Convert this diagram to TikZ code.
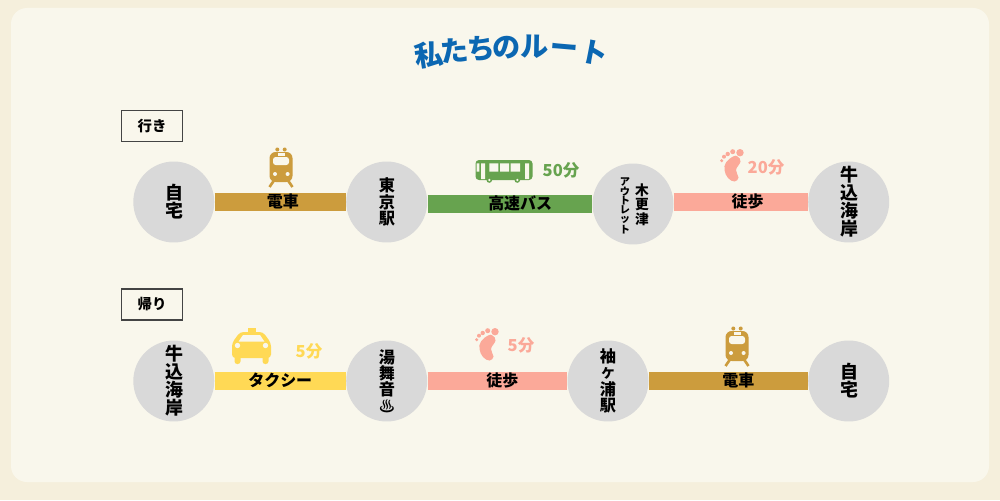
\documentclass[tikz,border=0pt]{standalone}
\usepackage{fontspec}
\usepackage{xcolor}
\usetikzlibrary{backgrounds}
\newfontfamily\jp{Noto Sans CJK JP}
\definecolor{routepage}{HTML}{F5EFDC}
\definecolor{routepanel}{HTML}{F9F7EC}
\definecolor{routeblue}{HTML}{0B67B2}
\definecolor{stopgray}{HTML}{D9D9D9}
\definecolor{trainbrown}{HTML}{CC9C3D}
\definecolor{busgreen}{HTML}{67A34F}
\definecolor{walkpink}{HTML}{FBA999}
\definecolor{taxiyellow}{HTML}{FFD955}
\definecolor{boxgray}{HTML}{444444}
\tikzset{
  titlechar/.style={inner sep=0pt,text=routeblue,font=\jp\bfseries\fontsize{16}{16}\selectfont},
  stop/.style={circle,fill=stopgray,inner sep=0pt,minimum size=1.62cm},
  stoptext/.style={align=center,inner sep=0pt,font=\jp\bfseries\fontsize{9.2}{9.3}\selectfont},
  stoplarge/.style={stoptext,font=\jp\bfseries\fontsize{10.2}{10.3}\selectfont},
  stopsmall/.style={stoptext,font=\jp\bfseries\fontsize{7.8}{6.9}\selectfont},
  stoptiny/.style={stoptext,font=\jp\bfseries\fontsize{5.8}{5.2}\selectfont},
  bar/.style={line width=0.36cm},
  barlabel/.style={text=black,inner sep=0pt,yshift=0.4pt,font=\jp\bfseries\fontsize{9.1}{9}\selectfont},
  timelabel/.style={inner sep=0pt,font=\jp\bfseries\fontsize{9.4}{10}\selectfont},
  tripbox/.style={draw=boxgray,line width=0.6pt,fill=routepanel,minimum width=1.22cm,
    minimum height=0.62cm,inner sep=0pt,font=\jp\bfseries\fontsize{8.2}{8}\selectfont},
  train/.pic={
    \fill[trainbrown] (-3.7,-17.5) circle (2) (3.7,-17.5) circle (2);
    \draw[trainbrown,line width=1.5pt] (-6,12) -- (-11.5,20) (6,12) -- (11.5,20);
    \fill[trainbrown,rounded corners=3.5pt] (-11.5,-15) rectangle (11.5,15);
    \fill[routepanel,rounded corners=1.5pt] (-8,-10) rectangle (8,-2);
    \fill[routepanel] (-3.5,-14) rectangle (3.5,-11);
    \fill[routepanel] (-6,7) circle (2) (6.6,7) circle (2);
  },
  bus/.pic={
    \fill[busgreen,rounded corners=2pt] (-28.5,-10) rectangle (28.5,10);
    \fill[routepanel] (-27.3,-6.7) rectangle (-24.7,1.7) (-23,-6.7) rectangle (-19,9);
    \fill[routepanel] (-14.7,-6.7) rectangle (-5.7,1.7) (-4,-6.7) rectangle (5,1.7)
      (6.7,-6.7) rectangle (16,1.7) (21,-6.7) rectangle (25,9);
    \fill[busgreen] (-14.7,10) circle (2.8) (13.3,10) circle (2.8);
    \fill[routepanel] (-14.7,10) circle (1.3) (13.3,10) circle (1.3);
  },
  foot/.pic={
    \fill[walkpink] (7,-13.3) circle (3.7) (-0.3,-14.3) circle (2.5) (-5.3,-12) circle (2.2)
      (-9,-9.3) circle (2) (-11.3,-5.3) circle (1.7);
    \fill[walkpink] plot[smooth cycle,tension=0.7] coordinates {(0,-9.5) (-7,-3.5) (-8.5,4)
      (-5,12) (1.5,15.5) (5.5,11.5) (3,4) (7.5,-4.5) (4.5,-9.5)};
  },
  taxi/.pic={
    \fill[taxiyellow] (-4,-18) rectangle (4,-13);
    \fill[taxiyellow,rounded corners=2pt] (-11.5,-14) -- (11.5,-14) -- (19.5,-3) -- (19.5,12)
      -- (-19.5,12) -- (-19.5,-3) -- cycle;
    \fill[taxiyellow,rounded corners=1.5pt] (-17,8) rectangle (-11,18) (11,8) rectangle (17,18);
    \fill[routepanel] (-13,-4.3) -- (-8.5,-11) -- (8.5,-11) -- (13,-4.3) -- cycle;
    \fill[routepanel] (-14,-0.5) circle (2.7) (14,-0.5) circle (2.7);
  }
}
\begin{document}
\begin{tikzpicture}[x=0.02cm,y=-0.02cm]
  \useasboundingbox (0,0) rectangle (1000,500);
  % title, one letter at a time along an arc
  \foreach \ch/\tx/\ty/\trot [count=\n] in {私/429/55/9,た/455/51/5,ち/481/49/2,の/507/48/0,
    ル/535/47/-1,ー/564/51/-5,ト/594/53/-11}
    \node[titlechar,rotate=\trot] (title\n) at (\tx,\ty) {\ch};

  \node[tripbox] (going) at (152,126) {行き};
  \node[stop] (homeA) at (173.8,202) {};
  \node[stop] (tokyo) at (386.7,202) {};
  \node[stop] (outlet) at (633,204) {};
  \node[stop] (beachA) at (848.7,202) {};
  \node[stoplarge] (homeAname) at (174,202) {自\\宅};
  \node[stoptext] (tokyoname) at (387,202) {東\\京\\駅};
  \node[stopsmall] (kisarazu) at (642,205) {木\\更\\津};
  \node[stoptiny] (outletname) at (625,206) {ア\\ウ\\ト\\レ\\ッ\\ト};
  \node[stoplarge] (beachAname) at (849,202) {牛\\込\\海\\岸};

  \node[tripbox] (back) at (152,304.5) {帰り};
  \node[stop] (beachB) at (173.8,381) {};
  \node[stop] (yumai) at (386.7,381) {};
  \node[stop] (sode) at (608,381) {};
  \node[stop] (homeB) at (848.7,381) {};
  \node[stoplarge] (beachBname) at (174,381) {牛\\込\\海\\岸};
  \node[stoptext] (yumainame) at (387,381) {湯\\舞\\音\\♨};
  \node[stoptext] (sodename) at (608,381) {袖\\{\fontsize{7.6}{9.3}\selectfont ケ}\\浦\\駅};
  \node[stoplarge] (homeBname) at (849,381) {自\\宅};

  \begin{scope}[on background layer]
    \fill[routepage] (0,0) rectangle (1000,500);
    \fill[routepanel,rounded corners=0.32cm] (11,8) rectangle (989,482);
    \draw[bar,trainbrown] (homeA) -- node[barlabel,pos=0.52] (rideA) {電車} (tokyo);
    \draw[bar,busgreen] (tokyo.east |- outlet) -- node[barlabel,pos=0.563] (rideB) {高速バス} (outlet);
    \draw[bar,walkpink] (outlet.east |- beachA) -- node[barlabel,pos=0.55] (rideC) {徒歩} (beachA);
    \draw[bar,taxiyellow] (beachB) -- node[barlabel] (rideD) {タクシー} (yumai);
    \draw[bar,walkpink] (yumai) -- node[barlabel,pos=0.536] (rideE) {徒歩} (sode);
    \draw[bar,trainbrown] (sode) -- node[barlabel,pos=0.5625] (rideF) {電車} (homeB);
  \end{scope}

  \pic at (281,167) {train};
  \pic at (504,170) {bus};
  \pic at (733,166) {foot};
  \pic at (251.5,346) {taxi};
  \pic at (488,345) {foot};
  \pic at (737,346) {train};
  \node[timelabel,text=busgreen] (timeB) at (561,170) {50分};
  \node[timelabel,text=walkpink] (timeC) at (766,167) {20分};
  \node[timelabel,text=taxiyellow] (timeD) at (309,351) {5分};
  \node[timelabel,text=walkpink] (timeE) at (521,345) {5分};
\end{tikzpicture}
\end{document}
